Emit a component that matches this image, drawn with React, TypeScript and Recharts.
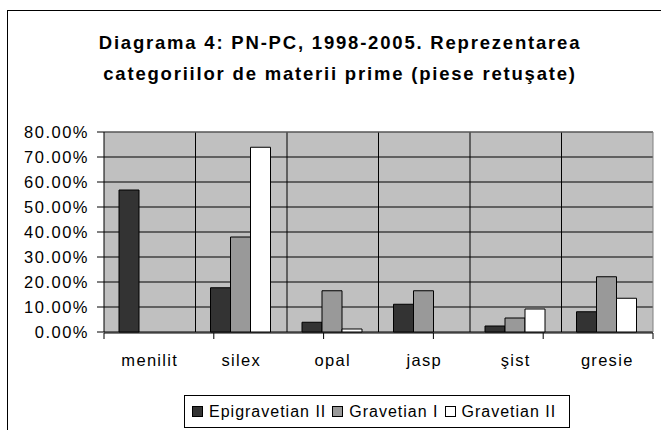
import { Bar, BarChart, CartesianGrid, XAxis, YAxis } from "recharts";

const CATEGORIES = ["menilit", "silex", "opal", "jasp", "şist", "gresie"];
const EPIGRAVETIAN_II = [56.8, 17.7, 3.9, 11.1, 2.4, 8.1];
const GRAVETIAN_I = [0, 38.0, 16.5, 16.5, 5.6, 22.1];
const GRAVETIAN_II = [0, 73.9, 1.2, 0, 9.2, 13.5];
const Y_TICKS = [0, 10, 20, 30, 40, 50, 60, 70, 80];
const EDGE_TICKS = [0, 1, 2, 3, 4, 5, 6];

const SERIES = [
  { key: "epi2", name: "Epigravetian II", color: "#333333", values: EPIGRAVETIAN_II },
  { key: "grav1", name: "Gravetian I", color: "#999999", values: GRAVETIAN_I },
  { key: "grav2", name: "Gravetian II", color: "#ffffff", values: GRAVETIAN_II },
];

const FONT = '"Liberation Sans", Arial, sans-serif';

const chartData = CATEGORIES.map((name, i) => {
  const row: Record<string, string | number> = { name };
  for (const s of SERIES) row[s.key] = s.values[i];
  return row;
});

// vertical grid lines sit on the category boundaries, not the centres
function categoryEdges({ offset }: { offset: { left: number; width: number } }) {
  return CATEGORIES.slice(1).map(
    (_, i) => offset.left + (offset.width * (i + 1)) / CATEGORIES.length,
  );
}

export default function App() {
  return (
    <div
      style={{
        position: "absolute",
        left: 0,
        top: 0,
        width: 661,
        height: 430,
        overflow: "hidden",
        background: "#fff",
        fontFamily: FONT,
      }}
    >
      <div
        style={{
          position: "absolute",
          left: 7,
          top: 27,
          width: 666,
          textAlign: "center",
          fontSize: 18.5,
          fontWeight: "bold",
          lineHeight: "31px",
          letterSpacing: 1.8,
          color: "#000",
        }}
      >
        Diagrama 4: PN-PC, 1998-2005. Reprezentarea
        <br />
        categoriilor de materii prime (piese retuşate)
      </div>

      <div style={{ position: "absolute", left: 0, top: 0 }}>
        <BarChart
          width={661}
          height={430}
          data={chartData}
          margin={{ top: 132, right: 8, bottom: 96, left: 0 }}
          barCategoryGap="16.4%"
          barGap={0}
        >
          <CartesianGrid
            fill="#c0c0c0"
            stroke="#000"
            strokeOpacity={1}
            verticalCoordinatesGenerator={categoryEdges}
          />
          <CartesianGrid
            stroke="#808080"
            horizontalCoordinatesGenerator={({ offset }: { offset: { top: number } }) => [offset.top]}
            verticalCoordinatesGenerator={({ offset }: { offset: { left: number; width: number } }) => [
              offset.left + offset.width,
            ]}
          />
          <XAxis
            xAxisId="edges"
            type="number"
            domain={[0, CATEGORIES.length]}
            allowDataOverflow
            ticks={EDGE_TICKS}
            interval={0}
            height={1}
            tickSize={6}
            tickFormatter={() => ""}
            axisLine={{ stroke: "#000" }}
            tickLine={{ stroke: "#000" }}
          />
          <XAxis
            dataKey="name"
            height={1}
            axisLine={false}
            tickLine={false}
            tickSize={0}
            tickMargin={22}
            interval={0}
            tick={{ fill: "#000", fontSize: 16.5, fontFamily: FONT, letterSpacing: 1.3 }}
          />
          <YAxis
            width={104}
            domain={[0, 80]}
            ticks={Y_TICKS}
            interval={0}
            tickSize={7}
            tickMargin={8}
            axisLine={{ stroke: "#000" }}
            tickLine={{ stroke: "#000" }}
            tickFormatter={(v: number) => `${v.toFixed(2)}%`}
            tick={{ fill: "#000", fontSize: 16.5, fontFamily: FONT, letterSpacing: 1.5 }}
          />
          {SERIES.map((s) => (
            <Bar
              key={s.key}
              dataKey={s.key}
              name={s.name}
              fill={s.color}
              stroke="#000"
              strokeWidth={1}
              isAnimationActive={false}
            />
          ))}
        </BarChart>
      </div>

      <div
        style={{
          position: "absolute",
          left: 184,
          top: 395,
          width: 386,
          height: 33,
          boxSizing: "border-box",
          border: "1px solid #000",
          background: "#fff",
          display: "flex",
          alignItems: "center",
          paddingLeft: 7,
          fontSize: 16,
          letterSpacing: 1,
          color: "#000",
          whiteSpace: "nowrap",
        }}
      >
        {SERIES.map((s, i) => (
          <div
            key={s.key}
            style={{ display: "flex", alignItems: "center", marginLeft: i === 0 ? 0 : 6 }}
          >
            <span
              style={{
                display: "inline-block",
                width: 11,
                height: 11,
                boxSizing: "border-box",
                border: "1px solid #000",
                background: s.color,
                marginRight: 6,
              }}
            />
            <span>{s.name}</span>
          </div>
        ))}
      </div>

      {/* outer chart frame, cut off on the right and bottom as in the source */}
      <div
        style={{
          position: "absolute",
          left: 7,
          top: 10,
          width: 720,
          height: 500,
          borderTop: "1px solid #000",
          borderLeft: "1px solid #000",
          pointerEvents: "none",
          zIndex: 2,
        }}
      />
    </div>
  );
}
